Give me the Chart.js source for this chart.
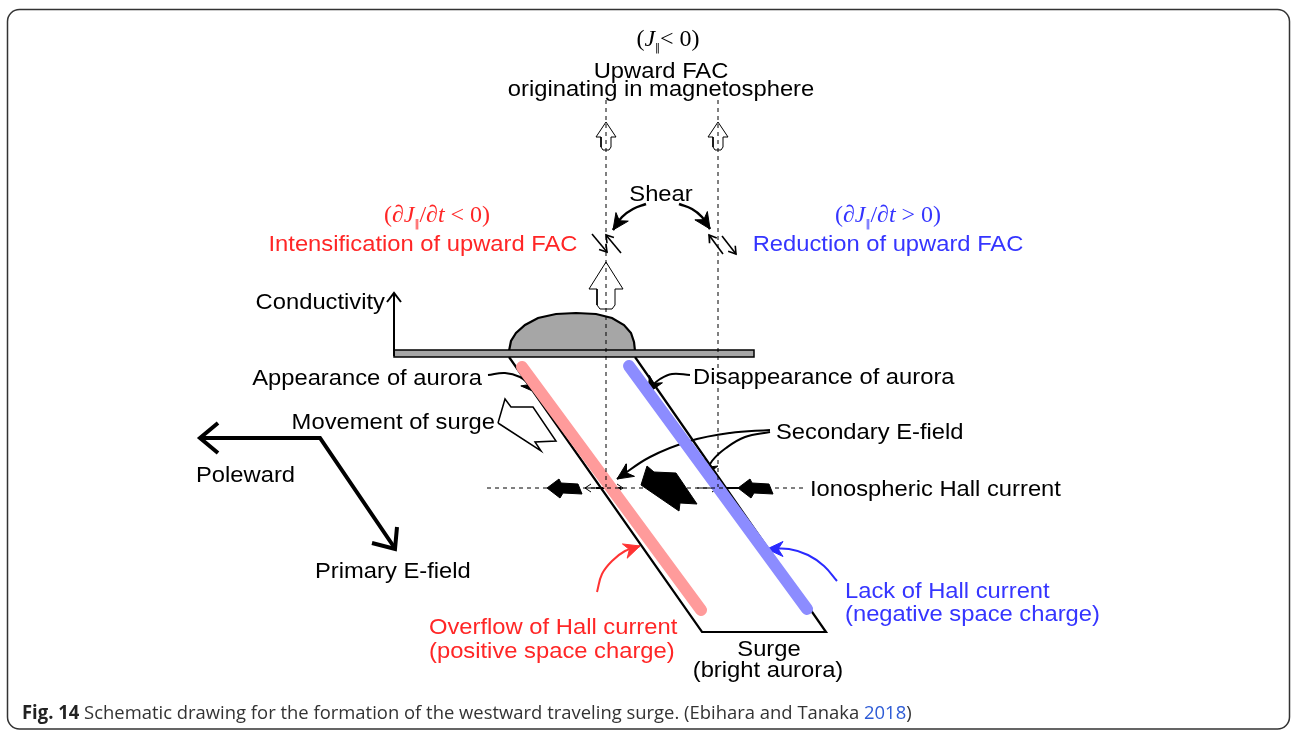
<!DOCTYPE html>
<html>
<head>
<meta charset="utf-8">
<script src="https://cdn.jsdelivr.net/npm/chart.js@4.4.0/dist/chart.umd.min.js"></script>
<style>
html, body { margin: 0; padding: 0; background: #fff; }
canvas { display: block; }
</style>
</head>
<body>
<canvas id="fig" width="1292" height="730"></canvas>
<script>
// Figure coordinates (x right, y down)
const fieldLineLeft = [[606, 100], [606, 487]];
const fieldLineRight = [[718, 100], [718, 487]];
const hallLine = [[487, 488], [806, 488]];

const smallUpArrowLeft = [[606, 122], [596, 137], [601, 137], [601, 147], [603, 150], [609, 150], [611, 147], [611, 137], [616, 137]];
const smallUpArrowRight = [[718, 122], [708, 137], [713, 137], [713, 147], [715, 150], [721, 150], [723, 147], [723, 137], [728, 137]];
const bigUpArrow = [[606, 262], [589, 289], [597, 289], [597, 305], [600, 309], [612, 309], [615, 305], [615, 289], [623, 289]];

const condAxis = [[394, 356], [394, 293]];
const condBar = [[394, 350], [754, 350], [754, 357], [394, 357]];
const condBump = [[509, 351], [511, 341], [516, 333], [525, 325], [538, 318], [556, 314], [576, 313], [596, 314], [612, 318], [624, 325], [631, 333], [634, 342], [635, 351]];

const surgeOutline = [[509, 357], [702, 632], [826, 632], [635, 357]];
const redBand = [[522, 367], [701, 610]];
const blueBand = [[629, 366], [807, 609]];

const polewardLine = [[200, 438], [320, 438], [394, 547]];
const polewardHead = [[218, 423], [200, 438], [218, 453]];
const primaryHead = [[372, 543], [395, 549], [397, 527]];

const surgeMoveArrow = [[498, 423], [505, 399], [511, 407], [533, 407], [556, 441], [535, 442], [541, 451]];
const hallArrowLeft = [[547, 488], [559, 479], [561, 483], [578, 484], [582, 494], [563, 493], [560, 498]];
const hallArrowRight = [[738, 488], [750, 479], [752, 483], [769, 484], [773, 494], [754, 493], [751, 498]];
const hallArrowBig = [[641, 485], [647, 466], [654, 472], [676, 473], [697, 504], [680, 503], [679, 511]];

// thin field arrows on the Hall line: [from, to]
const fieldArrowsLeft = [[[604, 488], [585, 488]], [[604, 488], [623, 488]]];
const fieldArrowsRight = [[[697, 488], [718, 488]]];
const solidHallBits = [[[596, 488], [621, 488]], [[724, 488], [741, 488]]];

// shear arrows [tail, tip]
const shearPairs = [
  [[592, 234], [607, 252]], [[621, 253], [606, 235]],
  [[723, 254], [709, 235]], [[722, 236], [736, 254]]
];

// curved arrows: points along the curve, last one is the tip
const curveShearL = [[646, 204], [633, 209], [622, 217], [613, 230]];
const curveShearR = [[679, 204], [692, 209], [702, 217], [710, 229]];
const curveAppear = [[488, 375], [505, 373], [520, 377], [530, 385], [537, 393]];
const curveDisappear = [[690, 375], [672, 374], [660, 379], [652, 386], [648, 393]];
const curveSecL = [[770, 430], [730, 433], [690, 441], [650, 457], [617, 479]];
const curveSecR = [[770, 432], [745, 437], [726, 448], [712, 461], [704, 477]];
const curveRed = [[597, 592], [602, 574], [612, 561], [625, 551], [640, 546]];
const curveBlue = [[837, 581], [824, 566], [808, 555], [789, 549], [767, 549]];

// text labels: text, x, baseline y, anchor
const blackLabels = [
  ['Upward FAC', 661, 78, 'center'],
  ['originating in magnetosphere', 661, 96, 'center'],
  ['Shear', 661, 201, 'center'],
  ['Conductivity', 385, 309, 'right'],
  ['Appearance of aurora', 482, 385, 'right'],
  ['Disappearance of aurora', 693, 384, 'left'],
  ['Movement of surge', 495, 429, 'right'],
  ['Poleward', 196, 482, 'left'],
  ['Secondary E-field', 776, 439, 'left'],
  ['Ionospheric Hall current', 810, 496, 'left'],
  ['Primary E-field', 315, 578, 'left'],
  ['Surge', 769, 656, 'center'],
  ['(bright aurora)', 768, 677, 'center']
];
const redLabels = [
  ['Intensification of upward FAC', 423, 251, 'center'],
  ['Overflow of Hall current', 429, 634, 'left'],
  ['(positive space charge)', 429, 658, 'left']
];
const blueLabels = [
  ['Reduction of upward FAC', 888, 251, 'center'],
  ['Lack of Hall current', 845, 598, 'left'],
  ['(negative space charge)', 845, 621, 'left']
];
// math labels: runs of [text, kind]
const mathTop = [['(', 'r'], ['J', 'i'], ['\u2016', 's'], ['< 0)', 'r']];
const mathRed = [['(\u2202', 'r'], ['J', 'i'], ['\u2016', 's'], ['/\u2202', 'r'], ['t', 'i'], [' < 0)', 'r']];
const mathBlue = [['(\u2202', 'r'], ['J', 'i'], ['\u2016', 's'], ['/\u2202', 'r'], ['t', 'i'], [' > 0)', 'r']];
const mathLabels = [[mathTop, 668, 46, '#000'], [mathRed, 437, 222, '#ff2626'], [mathBlue, 888, 222, '#3535ff']];

const captionRuns = [['Fig. 14', 'b'], [' Schematic drawing for the formation of the westward traveling surge. (Ebihara and Tanaka ', 'n'], ['2018', 'l'], [')', 'n']];

// ---------- styles & helpers ----------
const RED = '#ff2626', BLUE = '#3535ff', RED_ARROW = '#ff3333', BLUE_ARROW = '#2a2aff';
const SANS = '"Liberation Sans", Arial, sans-serif';
const SERIF = '"Liberation Serif", "Times New Roman", serif';

const toPts = a => a.map(p => ({x: p[0], y: p[1]}));

function line(a, o) {
  return Object.assign({
    data: toPts(a), showLine: true, pointRadius: 0, pointHoverRadius: 0,
    borderColor: '#000', borderWidth: 2, fill: false, tension: 0, clip: false,
    borderCapStyle: 'butt', borderJoinStyle: 'miter'
  }, o || {});
}
function shape(a, bg, o) {
  return line(a.concat([a[0]]), Object.assign({fill: 'shape', backgroundColor: bg, borderWidth: 1.2}, o || {}));
}
function dirOf(from, tip) {
  const dx = tip[0] - from[0], dy = tip[1] - from[1];
  const l = Math.hypot(dx, dy);
  return [dx / l, dy / l];
}
function filledHead(from, tip, len, half, color) {
  const d = dirOf(from, tip), n = [-d[1], d[0]];
  const bx = tip[0] - d[0] * len, by = tip[1] - d[1] * len;
  return shape([
    tip,
    [bx + n[0] * half, by + n[1] * half],
    [bx + d[0] * len * 0.3, by + d[1] * len * 0.3],
    [bx - n[0] * half, by - n[1] * half]
  ], color, {borderColor: color, borderWidth: 1});
}
function openHead(from, tip, len, half, width, color) {
  const d = dirOf(from, tip), n = [-d[1], d[0]];
  const bx = tip[0] - d[0] * len, by = tip[1] - d[1] * len;
  return line([[bx + n[0] * half, by + n[1] * half], tip, [bx - n[0] * half, by - n[1] * half]],
    {borderWidth: width, borderColor: color || '#000'});
}
function curveArrow(c, color, width) {
  const n = c.length;
  return [
    line(c, {tension: 0.4, borderColor: color, borderWidth: width}),
    filledHead(c[n - 2], c[n - 1], 16, 7.5, color)
  ];
}

const datasets = [];
// field lines
datasets.push(line(fieldLineLeft, {borderWidth: 1, borderDash: [4, 4]}));
datasets.push(line(fieldLineRight, {borderWidth: 1, borderDash: [4, 4]}));
datasets.push(line(hallLine, {borderWidth: 1, borderDash: [4, 4]}));
datasets.push(shape(smallUpArrowLeft, '#fff', {borderWidth: 1}));
datasets.push(shape(smallUpArrowRight, '#fff', {borderWidth: 1}));
datasets.push(shape(bigUpArrow, '#fff', {borderWidth: 1}));

// shear
datasets.push(...curveArrow(curveShearL, '#000', 2.5));
datasets.push(...curveArrow(curveShearR, '#000', 2.5));
shearPairs.forEach(p => {
  datasets.push(line(p, {borderWidth: 1.6}));
  datasets.push(openHead(p[0], p[1], 7, 4.5, 1.6));
});

// conductivity
datasets.push(line(condAxis, {borderWidth: 2}));
datasets.push(openHead(condAxis[0], condAxis[1], 9, 7, 2));
datasets.push(shape(condBar, '#a6a6a6', {borderWidth: 1.5}));
datasets.push(shape(condBump, '#a6a6a6', {borderWidth: 2.2}));

// surge and bands
datasets.push(line(redBand, {borderColor: 'rgb(255,155,155)', borderWidth: 12, borderCapStyle: 'round'}));
datasets.push(line(blueBand, {borderColor: 'rgb(140,140,255)', borderWidth: 12, borderCapStyle: 'round'}));
datasets.push(line(surgeOutline, {borderWidth: 2.2}));

// direction arrows
datasets.push(line(polewardLine, {borderWidth: 4}));
datasets.push(line(polewardHead, {borderWidth: 4}));
datasets.push(line(primaryHead, {borderWidth: 4}));
datasets.push(shape(surgeMoveArrow, '#fff', {borderWidth: 1.5}));

// Hall current
solidHallBits.forEach(s => datasets.push(line(s, {borderWidth: 2})));
fieldArrowsLeft.concat(fieldArrowsRight).forEach(s => {
  datasets.push(line(s, {borderWidth: 1}));
  datasets.push(openHead(s[0], s[1], 6, 4, 1));
});
datasets.push(shape(hallArrowLeft, '#000', {borderWidth: 1}));
datasets.push(shape(hallArrowRight, '#000', {borderWidth: 1}));
datasets.push(shape(hallArrowBig, '#000', {borderWidth: 1}));

// label arrows
datasets.push(...curveArrow(curveAppear, '#000', 2));
datasets.push(...curveArrow(curveDisappear, '#000', 2));
datasets.push(...curveArrow(curveSecL, '#000', 2));
datasets.push(...curveArrow(curveSecR, '#000', 2));
datasets.push(...curveArrow(curveRed, RED_ARROW, 2));
datasets.push(...curveArrow(curveBlue, BLUE_ARROW, 2));

// ---------- text plugin ----------
function drawRuns(ctx, runs, px, py, align, fonts, colors, hscale) {
  let w = 0;
  runs.forEach(r => { ctx.font = fonts[r[1]].font; w += ctx.measureText(r[0]).width * hscale; });
  let x = align === 'center' ? px - w / 2 : align === 'right' ? px - w : px;
  runs.forEach(r => {
    const f = fonts[r[1]];
    ctx.font = f.font;
    ctx.fillStyle = colors[r[1]];
    ctx.save();
    ctx.translate(x, py + (f.dy || 0));
    ctx.scale(hscale, 1);
    ctx.textAlign = 'left';
    ctx.textBaseline = 'alphabetic';
    ctx.fillText(r[0], 0, 0);
    ctx.restore();
    x += ctx.measureText(r[0]).width * hscale;
  });
}

const textPlugin = {
  id: 'figText',
  afterDraw(chart) {
    const ctx = chart.ctx, sx = chart.scales.x, sy = chart.scales.y;
    const X = v => sx.getPixelForValue(v), Y = v => sy.getPixelForValue(v);
    const plain = {n: {font: '22px ' + SANS}};
    const put = (list, color) => list.forEach(l =>
      drawRuns(ctx, [[l[0], 'n']], X(l[1]), Y(l[2]), l[3], plain, {n: color}, 1.08));
    put(blackLabels, '#000');
    put(redLabels, RED);
    put(blueLabels, BLUE);

    const mfonts = {
      r: {font: '24px ' + SERIF},
      i: {font: 'italic 24px ' + SERIF},
      s: {font: '10px "DejaVu Sans", sans-serif', dy: 5}
    };
    mathLabels.forEach(m => {
      const c = m[3];
      drawRuns(ctx, m[0], X(m[1]), Y(m[2]), 'center', mfonts, {r: c, i: c, s: c}, 1.0);
    });

    const cfonts = {
      b: {font: 'bold 19px "Open Sans", sans-serif'},
      n: {font: '19px "Open Sans", sans-serif'},
      l: {font: '19px "Open Sans", sans-serif'}
    };
    drawRuns(ctx, captionRuns, X(22), Y(719), 'left', cfonts, {b: '#222', n: '#333', l: '#2d5bd6'}, 0.97);
  }
};

const framePlugin = {
  id: 'frame',
  beforeDraw(chart) {
    const ctx = chart.ctx, sx = chart.scales.x, sy = chart.scales.y;
    const x0 = sx.getPixelForValue(7.5), x1 = sx.getPixelForValue(1289.5);
    const y0 = sy.getPixelForValue(9.5), y1 = sy.getPixelForValue(729);
    ctx.save();
    ctx.fillStyle = '#fff';
    ctx.fillRect(0, 0, chart.width, chart.height);
    ctx.strokeStyle = '#333';
    ctx.lineWidth = 1.5;
    ctx.beginPath();
    ctx.roundRect(x0, y0, x1 - x0, y1 - y0, 12);
    ctx.stroke();
    ctx.restore();
  }
};

new Chart(document.getElementById('fig').getContext('2d'), {
  type: 'scatter',
  data: {datasets},
  options: {
    responsive: false,
    animation: false,
    devicePixelRatio: 1,
    events: [],
    layout: {padding: 0},
    plugins: {legend: {display: false}, tooltip: {enabled: false}},
    scales: {
      x: {type: 'linear', min: 0, max: 1292, display: false},
      y: {type: 'linear', min: 0, max: 730, reverse: true, display: false}
    }
  },
  plugins: [framePlugin, textPlugin]
});
</script>
</body>
</html>
